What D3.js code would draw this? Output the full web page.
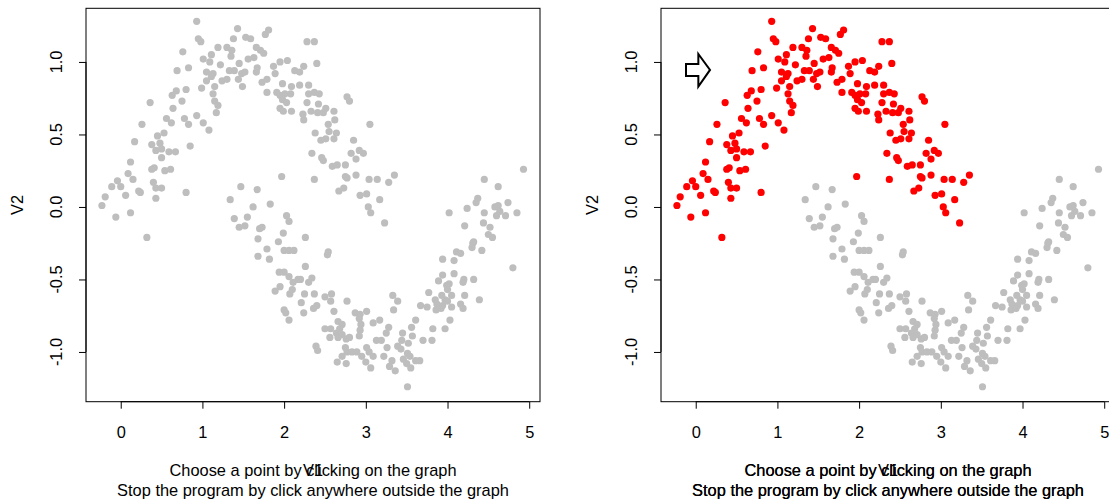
<!DOCTYPE html>
<html>
<head>
<meta charset="utf-8">
<script src="https://cdn.jsdelivr.net/npm/d3@7"></script>
<style>
  html, body { margin: 0; padding: 0; background: #fff; }
  svg { display: block; font-family: "Liberation Sans", Arial, Helvetica, sans-serif; }
</style>
</head>
<body>
<svg id="chart" width="1109" height="502"></svg>
<script>
// Upper half-moon (V1, V2)
const upperX = [0.93,1.43,0.95,0.98,1.38,0.76,1.11,1.19,1.30,1.36,1.35,1.01,1.09,1.22,1.45,0.83,0.69,1.05,1.13,1.33,
  1.39,1.48,1.11,1.05,1.24,1.30,1.44,0.99,1.15,0.80,0.68,0.63,1.13,0.75,0.36,1.15,1.19,0.64,1.17,0.93,
  0.56,0.62,0.78,0.83,1.01,0.26,1.08,0.53,0.45,0.17,0.38,0.48,0.43,0.50,0.59,0.67,0.85,0.50,0.12,0.38,
  0.41,0.54,0.61,0.09,0.15,0.40,-0.04,0.00,-0.11,0.43,0.50,0.22,0.24,0.80,0.06,-0.19,0.43,-0.23,0.12,-0.06,
  0.32,
  1.81,1.77,1.53,1.59,2.28,2.37,1.66,1.71,1.75,1.56,1.63,1.87,1.95,2.04,2.40,2.24,1.52,1.66,1.67,1.89,
  2.13,2.19,1.49,1.73,1.79,1.98,2.09,2.19,2.30,1.79,1.91,1.95,2.01,2.08,2.30,2.37,2.43,1.98,2.03,2.28,
  2.42,1.95,1.99,2.09,2.23,2.24,2.33,2.41,2.48,2.51,2.61,2.62,2.77,2.80,2.54,2.55,2.64,2.38,2.45,2.51,
  2.61,3.05,2.85,2.34,2.46,2.48,2.59,2.65,2.75,2.82,2.88,2.92,2.97,1.97,2.37,2.75,2.77,2.88,3.04,3.14,
  3.28,3.35,2.67,2.73,2.93,3.01,3.17,3.03,3.06,3.23];
const upperY = [1.28,1.23,1.16,1.14,1.16,1.07,1.05,1.10,1.10,1.08,1.04,1.02,1.00,0.98,0.99,0.96,0.94,0.93,0.92,0.94,
  0.94,0.92,0.90,0.87,0.87,0.88,0.88,0.82,0.83,0.81,0.80,0.77,0.78,0.73,0.72,0.73,0.70,0.68,0.65,0.63,
  0.61,0.58,0.61,0.57,0.58,0.57,0.53,0.51,0.49,0.45,0.43,0.44,0.39,0.40,0.38,0.38,0.42,0.34,0.31,0.26,
  0.27,0.25,0.26,0.23,0.19,0.17,0.18,0.14,0.14,0.13,0.13,0.11,0.10,0.10,0.08,0.07,0.06,0.01,-0.04,-0.07,
  -0.21,
  1.22,1.19,1.17,1.16,1.14,1.14,1.10,1.08,1.06,1.02,1.03,0.97,1.00,1.01,0.99,0.97,0.93,0.93,0.96,0.92,
  0.94,0.93,0.83,0.86,0.88,0.85,0.83,0.84,0.84,0.79,0.79,0.77,0.78,0.78,0.78,0.79,0.78,0.74,0.72,0.72,
  0.71,0.68,0.66,0.66,0.64,0.60,0.66,0.65,0.65,0.68,0.66,0.60,0.76,0.73,0.57,0.52,0.51,0.51,0.46,0.47,
  0.47,0.57,0.46,0.37,0.34,0.32,0.28,0.29,0.29,0.37,0.33,0.39,0.37,0.21,0.19,0.21,0.20,0.22,0.19,0.19,
  0.17,0.22,0.11,0.13,0.08,0.09,0.05,0.00,-0.04,-0.11];

// Lower half-moon (V1, V2)
const lowerX = [1.47,1.34,1.39,1.45,
  1.67,1.83,1.62,1.55,1.52,2.03,2.06,1.73,1.70,1.99,1.68,1.93,2.26,
  4.93,4.45,4.62,4.37,4.35,4.24,4.02,4.45,4.58,4.62,4.74,4.60,4.64,4.71,4.85,4.21,4.44,4.52,4.50,4.55,4.32,
  1.79,2.00,2.06,2.12,1.68,1.82,2.26,1.94,2.00,2.06,2.17,2.20,2.11,2.34,2.30,1.95,1.89,2.10,2.07,2.25,
  2.37,2.21,2.00,2.02,2.24,2.36,2.06,
  2.54,2.53,2.50,2.58,2.57,2.40,2.61,2.77,2.87,2.93,3.01,2.92,2.94,2.66,2.71,2.68,2.50,2.57,2.64,2.71,
  2.66,2.56,2.76,2.80,2.93,2.92,3.09,3.17,3.28,3.25,3.13,3.19,2.39,2.41,2.75,2.77,2.83,2.89,2.71,2.95,
  3.01,3.04,3.09,3.26,3.22,3.32,3.29,3.36,2.65,2.76,3.00,3.06,3.34,3.33,3.39,3.45,3.44,3.39,3.43,3.51,
  3.54,3.46,3.50,3.55,3.61,3.66,3.51,3.52,3.56,3.57,3.61,3.67,3.70,3.82,3.75,3.77,3.81,3.85,3.87,3.86,
  3.92,3.94,3.97,3.93,4.00,4.03,3.97,3.89,3.94,3.99,4.02,4.00,4.05,4.08,3.94,4.08,4.11,4.16,4.20,4.19,
  4.21,4.16,4.19,4.05,4.32,4.39,4.31,4.30,4.42,4.80];
const lowerY = [0.14,0.05,-0.08,-0.14,
  0.12,0.02,0.00,-0.07,-0.13,-0.06,-0.10,-0.14,-0.15,-0.18,-0.22,-0.24,-0.21,
  0.26,0.19,0.14,0.06,0.03,-0.01,-0.04,-0.04,0.00,0.01,0.03,-0.06,-0.03,-0.06,-0.04,-0.13,-0.11,-0.14,-0.19,-0.21,-0.24,
  -0.29,-0.30,-0.30,-0.30,-0.34,-0.36,-0.41,-0.45,-0.45,-0.48,-0.50,-0.50,-0.52,-0.49,-0.52,-0.55,-0.58,-0.57,-0.60,-0.60,
  -0.60,-0.66,-0.71,-0.73,-0.73,-0.70,-0.78,
  -0.31,-0.33,-0.62,-0.60,-0.65,-0.68,-0.72,-0.65,-0.73,-0.74,-0.72,-0.77,-0.81,-0.79,-0.81,-0.84,-0.84,-0.84,-0.87,-0.88,
  -0.90,-0.90,-0.91,-0.90,-0.85,-0.89,-0.80,-0.78,-0.83,-0.87,-0.92,-0.92,-0.96,-0.99,-0.97,-1.00,-1.00,-1.00,-1.03,-1.03,
  -0.97,-1.00,-1.03,-0.97,-1.03,-1.06,-1.10,-1.13,-1.07,-1.08,-1.07,-1.11,-0.71,-0.61,-0.65,-0.87,-0.92,-0.96,-0.98,-1.01,
  -1.03,-1.05,-1.08,-1.11,-1.06,-1.06,-1.24,-0.94,-0.83,-0.89,-0.78,-0.68,-0.92,-0.84,-0.69,-0.59,-0.92,-0.64,-0.67,-0.71,
  -0.70,-0.68,-0.64,-0.61,-0.65,-0.78,-0.84,-0.51,-0.47,-0.54,-0.53,-0.57,-0.61,-0.46,-0.36,-0.37,-0.31,-0.32,-0.50,-0.52,
  -0.61,-0.67,-0.70,-0.69,-0.50,-0.64,-0.25,-0.28,-0.30,-0.42];

const xTicks = [0, 1, 2, 3, 4, 5];
const yTicks = [-1, -0.5, 0, 0.5, 1];
const yTickLabels = ["-1.0", "-0.5", "0.0", "0.5", "1.0"];
const xTitle = "V1";
const yTitle = "V2";
const noteLines = ["Choose a point by clicking on the graph",
                   "Stop the program by click anywhere outside the graph"];

// Pointer glyph shown in the second panel (V1, V2 outline)
const arrowX = [-0.119, 0.032, 0.032, 0.175, 0.032, 0.032, -0.119];
const arrowY = [0.986, 0.986, 1.055, 0.945, 0.830, 0.903, 0.903];

const GRAY = "#bebebe";
const RED = "#ff0000";
const FONT = 16.4;
const R = 3.6;

const svg = d3.select("#chart");
svg.append("rect").attr("width", 1109).attr("height", 502).attr("fill", "#fff");

const plotLeft = 86, plotRight = 540, plotTop = 8.3, plotBottom = 401.7;
const xDomain = [-0.425, 5.132];
const yDomain = [-1.343, 1.370];

const upper = upperX.map((x, i) => ({x, y: upperY[i]}));
const lower = lowerX.map((x, i) => ({x, y: lowerY[i]}));

function drawPanel(offset, highlight) {
  const g = svg.append("g").attr("transform", `translate(${offset},0)`);
  const x = d3.scaleLinear().domain(xDomain).range([plotLeft, plotRight]);
  const y = d3.scaleLinear().domain(yDomain).range([plotBottom, plotTop]);

  // points
  g.append("g").selectAll("circle").data(lower).join("circle")
    .attr("cx", d => x(d.x)).attr("cy", d => y(d.y)).attr("r", R).attr("fill", GRAY);
  g.append("g").selectAll("circle").data(upper).join("circle")
    .attr("cx", d => x(d.x)).attr("cy", d => y(d.y)).attr("r", R)
    .attr("fill", highlight ? RED : GRAY);

  if (highlight) {
    const pts = arrowX.map((ax, i) => [x(ax), y(arrowY[i])]);
    g.append("path").attr("d", d3.line()(pts) + "Z")
      .attr("fill", "#fff").attr("stroke", "#000").attr("stroke-width", 2)
      .attr("stroke-linejoin", "miter");
  }

  // box
  g.append("rect").attr("x", plotLeft).attr("y", plotTop)
    .attr("width", plotRight - plotLeft).attr("height", plotBottom - plotTop)
    .attr("fill", "none").attr("stroke", "#000").attr("stroke-width", 1);

  // x axis
  const xa = g.append("g").attr("transform", `translate(0,${plotBottom})`)
    .call(d3.axisBottom(x).tickValues(xTicks).tickFormat(d3.format("d")).tickSize(7).tickPadding(18));
  xa.select(".domain").attr("d", `M${x(xTicks[0])},0H${x(xTicks[xTicks.length - 1])}`);
  xa.selectAll("text").attr("font-size", FONT).attr("font-family", null).attr("fill", "#000");
  xa.selectAll("line").attr("stroke", "#000");
  xa.attr("font-family", null);

  // y axis
  const ya = g.append("g").attr("transform", `translate(${plotLeft},0)`)
    .call(d3.axisLeft(y).tickValues(yTicks).tickSize(7).tickFormat(""));
  ya.select(".domain").attr("d", `M0,${y(yTicks[0])}V${y(yTicks[yTicks.length - 1])}`);
  ya.selectAll("line").attr("stroke", "#000");
  g.append("g").selectAll("text").data(yTicks).join("text")
    .attr("transform", d => `translate(61.5,${y(d)}) rotate(-90)`)
    .attr("text-anchor", "middle").attr("font-size", FONT)
    .text((d, i) => yTickLabels[i]);

  // titles; the axis title shares the first note line, as in the original device output
  const cx = (plotLeft + plotRight) / 2;
  const reps = highlight ? 2 : 1;
  for (let r = 0; r < reps; r++) {
    g.append("text").attr("x", cx).attr("y", 476).attr("text-anchor", "middle")
      .attr("font-size", FONT).text(noteLines[0]);
    g.append("text").attr("x", cx).attr("y", 496).attr("text-anchor", "middle")
      .attr("font-size", FONT).text(noteLines[1]);
  }
  g.append("text").attr("x", cx).attr("y", 476).attr("text-anchor", "middle")
    .attr("font-size", FONT).text(xTitle);
  g.append("text").attr("transform", `translate(23,${(plotTop + plotBottom) / 2}) rotate(-90)`)
    .attr("text-anchor", "middle").attr("font-size", FONT).text(yTitle);
}

drawPanel(0, false);
drawPanel(575, true);
</script>
</body>
</html>
